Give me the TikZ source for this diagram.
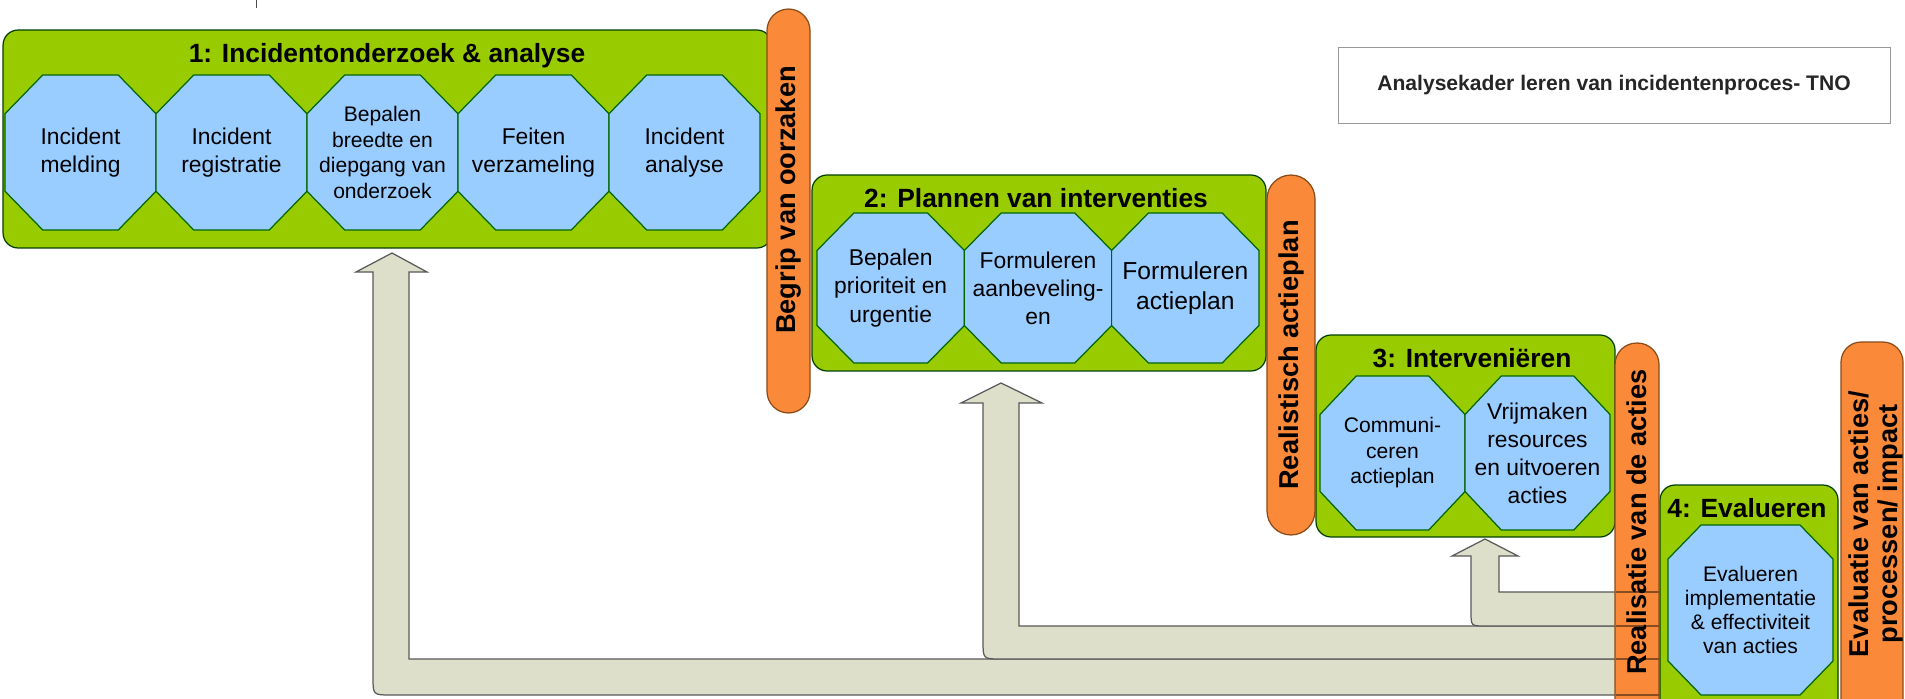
\documentclass[tikz,border=0pt]{standalone}
\usepackage{fontspec}
\setmainfont{Liberation Sans}
\definecolor{phasegreen}{HTML}{99CC00}
\definecolor{stepblue}{HTML}{99CCFF}
\definecolor{barorange}{HTML}{FA8A3A}
\definecolor{barline}{HTML}{8A4B17}
\definecolor{backgray}{HTML}{DDDFCB}
\newcommand{\octcut}{0.5}
% octagon: [text options]{name}{x}{y}{half width}{half height}{text}
\newcommand{\actoct}[7][]{%
  \draw[actline] (#3-#5+\octcut*#5,#4-#6) -- (#3+#5-\octcut*#5,#4-#6) -- (#3+#5,#4-#6+\octcut*#6)
    -- (#3+#5,#4+#6-\octcut*#6) -- (#3+#5-\octcut*#5,#4+#6) -- (#3-#5+\octcut*#5,#4+#6)
    -- (#3-#5,#4+#6-\octcut*#6) -- (#3-#5,#4-#6+\octcut*#6) -- cycle;
  \node[acttext,#1] (#2) at (#3,#4) {#7};}

\begin{document}
\begin{tikzpicture}[x=0.02cm,y=-0.02cm,inner sep=1pt,
  phase/.style={draw=black!75!green,fill=phasegreen,rounded corners=0.3cm,line width=0.7pt},
  ptitle/.style={font=\fontsize{15}{18}\selectfont\bfseries},
  actline/.style={draw=black!60!green,fill=stepblue,line width=0.7pt},
  acttext/.style={align=center,inner sep=0pt,font=\fontsize{13}{16}\selectfont},
  actsmall/.style={font=\fontsize{12}{14.5}\selectfont},
  outcome/.style={draw=barline,fill=barorange,rounded corners=0.43cm,line width=0.7pt,rotate=90},
  otext/.style={rotate=90,align=center,font=\fontsize{15.5}{16.5}\selectfont\bfseries},
  back/.style={draw=black!65,fill=backgray,line width=0.7pt}]
\useasboundingbox (0,0) rectangle (1905,699);
\clip (0,0) rectangle (1905,699);
\fill[white] (0,0) rectangle (1905,699);
\draw[black!70] (256,0) -- (256,8);
%
\coordinate (tip1) at (392,253);
\coordinate (tip2) at (1001,383);
\coordinate (tip3) at (1485,539);
\draw[back] (tip1) -- (427,272) -- (409,272) -- (409,659) -- (1662,659) -- (1662,695)
  -- (391,695) .. controls (373,695) .. (373,677) -- (373,272) -- (356,272) -- cycle;
\draw[back] (tip2) -- (1042,403) -- (1019,403) -- (1019,626) -- (1662,626) -- (1662,659)
  -- (1001,659) .. controls (983,659) .. (983,641) -- (983,403) -- (961,403) -- cycle;
\draw[back] (tip3) -- (1518,556) -- (1499,556) -- (1499,592) -- (1662,592) -- (1662,626)
  -- (1485,626) .. controls (1471,626) .. (1471,612) -- (1471,556) -- (1452,556) -- cycle;
%
\node[phase,minimum width=15.38cm,minimum height=4.36cm] (ph1) at (387.5,139) {};
\node[phase,minimum width=9.08cm,minimum height=3.92cm] (ph2) at (1039,273) {};
\node[phase,minimum width=5.98cm,minimum height=4.04cm] (ph3) at (1465.5,436) {};
\node[phase,minimum width=3.56cm,minimum height=5.1cm] (ph4) at (1749,612.5) {};
\node[ptitle] (t1) at (387,56) {1: Incidentonderzoek \& analyse};
\node[ptitle] (t2) at (1036,198) {2: Plannen van interventies};
\node[ptitle] (t3) at (1472,358) {3: Interveniëren};
\node[ptitle] (t4) at (1747,508) {4: Evalueren};
%
\actoct{a1}{80.5}{152.5}{75.5}{77.5}{Incident\\melding}
\actoct{a2}{231.5}{152.5}{75.5}{77.5}{Incident\\registratie}
\actoct[actsmall]{a3}{382.5}{152.5}{75.5}{77.5}{Bepalen\\breedte en\\diepgang van\\onderzoek}
\actoct{a4}{533.5}{152.5}{75.5}{77.5}{Feiten\\verzameling}
\actoct{a5}{684.5}{152.5}{75.5}{77.5}{Incident\\analyse}
%
\actoct{b1}{890.7}{288}{73.7}{75}{Bepalen\\prioriteit en\\urgentie}
\actoct{b2}{1038}{288}{73.7}{75}{Formuleren\\aanbeveling-\\en}
\actoct[font=\fontsize{14}{17}\selectfont]{b3}{1185.3}{288}{73.7}{75}{Formuleren\\actieplan}
%
\actoct[actsmall]{c1}{1392.5}{453}{72.5}{77}{Communi-\\ceren\\actieplan}
\actoct{c2}{1537.5}{453}{72.5}{77}{Vrijmaken\\resources\\en uitvoeren\\acties}
%
\renewcommand{\octcut}{0.4}
\actoct[font=\fontsize{12}{13.5}\selectfont]{d1}{1750.5}{610}{82.5}{85}{Evalueren\\implementatie\\\& effectiviteit\\van acties}
%
\node[outcome,minimum width=8.08cm,minimum height=0.86cm] (r1) at (788.5,211) {};
\node[outcome,minimum width=7.2cm,minimum height=0.96cm,rounded corners=0.48cm] (r2) at (1291,355) {};
\node[outcome,minimum width=8.34cm,minimum height=0.88cm] (r3) at (1637,551.5) {};
\node[outcome,minimum width=8.36cm,minimum height=1.24cm,rounded corners=0.4cm] (r4) at (1872,551) {};
\draw[black!45!barorange,line width=0.7pt] (1616,592) -- (1660,592) (1616,626) -- (1660,626)
  (1616,659) -- (1660,659) (1616,695) -- (1660,695);
\node[otext] (l1) at (789,200) {Begrip van oorzaken};
\node[otext] (l2) at (1291,355) {Realistisch actieplan};
\node[otext] (l3) at (1637,522) {Realisatie van de acties};
\node[otext] (l4) at (1876,524) {Evaluatie van acties/\\processen/ impact};
%
\node[draw=black!40,minimum width=11.04cm,minimum height=1.52cm,text=black!85,
  font=\fontsize{12}{14}\selectfont\bfseries] (kader) at (1614,85) {Analysekader leren van incidentenproces- TNO};
\end{tikzpicture}
\end{document}
